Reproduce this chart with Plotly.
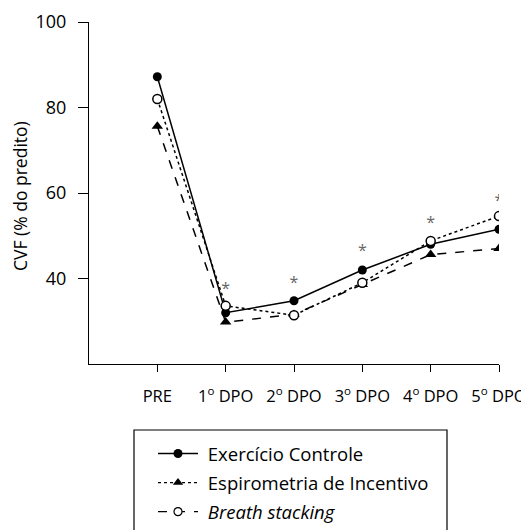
import plotly.graph_objects as go

categories = ["PRE", "1<sup>o</sup> DPO", "2<sup>o</sup> DPO", "3<sup>o</sup> DPO",
              "4<sup>o</sup> DPO", "5<sup>o</sup> DPO"]
exercicio_controle = [87.2, 32.0, 34.8, 42.0, 48.0, 51.5]
espirometria_incentivo = [75.6, 29.8, 31.6, 38.6, 45.6, 47.0]
breath_stacking = [82.0, 33.6, 31.4, 39.0, 48.8, 54.6]
signif_y = [37.4, 38.8, 46.1, 52.8, 58.0]
signif_cats = categories[1:]

FONT = "Open Sans"
x_idx = list(range(len(categories)))

W, H = 521, 522
L, T, PW, PH = 81, 14, 410, 342
B = H - T - PH

fig = go.Figure()

fig.add_trace(go.Scatter(
    x=x_idx, y=exercicio_controle, mode="lines+markers", showlegend=False,
    line=dict(color="black", width=1.5, dash="solid"),
    marker=dict(symbol="circle", size=9, color="black")))
fig.add_trace(go.Scatter(
    x=x_idx, y=espirometria_incentivo, mode="lines+markers", showlegend=False,
    line=dict(color="black", width=1.5, dash="dash"),
    marker=dict(symbol="triangle-up", size=10, color="black")))
fig.add_trace(go.Scatter(
    x=x_idx, y=breath_stacking, mode="lines+markers", showlegend=False,
    line=dict(color="black", width=1.5, dash="dot"),
    marker=dict(symbol="circle", size=9, color="white",
                line=dict(color="black", width=1.5))))

fig.add_trace(go.Scatter(
    x=[categories.index(c) for c in signif_cats], y=signif_y, mode="text",
    text=["*"] * len(signif_cats), showlegend=False,
    textfont=dict(family=FONT, size=16, color="#666666")))

# legend entries (styles as shown in the legend box)
NB = "\u00a0"
fig.add_trace(go.Scatter(
    x=[None], y=[None], mode="lines+markers", name=NB + "Exercício Controle",
    legendgroup="a",
    line=dict(color="black", width=1.5, dash="solid"),
    marker=dict(symbol="circle", size=9, color="black")))
fig.add_trace(go.Scatter(
    x=[None], y=[None], mode="lines+markers", name=NB + "Espirometria de Incentivo",
    legendgroup="b",
    line=dict(color="black", width=1.2, dash="dot"),
    marker=dict(symbol="triangle-up", size=9, color="black")))
fig.add_trace(go.Scatter(
    x=[None], y=[None], mode="lines+markers", name=NB + "<i>Breath stacking</i>",
    legendgroup="c",
    line=dict(color="black", width=1.2, dash="dash"),
    marker=dict(symbol="circle", size=8, color="white",
                line=dict(color="black", width=1.2))))

# legend frame (extends past the bottom edge, as in the reference)
fig.add_shape(type="rect", xref="paper", yref="paper",
              x0=(126 - L) / PW, x1=(439 - L) / PW,
              y0=(T + PH - 560) / PH, y1=(T + PH - 422) / PH,
              line=dict(color="black", width=1.2), fillcolor="rgba(0,0,0,0)")

# y-axis title
fig.add_annotation(text="CVF (% do predito)", xref="paper", yref="paper",
                   x=(12 - L) / PW, y=(T + PH - 188) / PH, textangle=-90,
                   showarrow=False, xanchor="center", yanchor="middle",
                   font=dict(family=FONT, size=17.5, color="black"))

fig.update_layout(
    width=W, height=H,
    margin=dict(l=L, r=W - L - PW, t=T, b=B, autoexpand=False),
    paper_bgcolor="white", plot_bgcolor="white",
    font=dict(family=FONT, size=16, color="black"),
    showlegend=True,
    legend=dict(xref="container", yref="container",
                x=145 / W, xanchor="left", y=1 - 427 / H, yanchor="top",
                borderwidth=0, bgcolor="rgba(0,0,0,0)",
                font=dict(family=FONT, size=18.5, color="black"),
                traceorder="grouped", tracegroupgap=2, itemwidth=40),
    xaxis=dict(range=[-1, 5], tickmode="array", tickvals=x_idx, ticktext=categories,
               showline=True, linecolor="black", linewidth=1.2,
               ticks="outside", ticklen=7, tickcolor="black", tickwidth=1.2,
               ticklabelstandoff=10,
               showgrid=False, zeroline=False,
               tickfont=dict(family=FONT, size=16.5)),
    yaxis=dict(range=[20, 100], tickvals=[40, 60, 80, 100],
               showline=True, linecolor="black", linewidth=1.2,
               ticks="outside", ticklen=10, tickcolor="black", tickwidth=1.2,
               ticklabelstandoff=8,
               showgrid=False, zeroline=False,
               tickfont=dict(family=FONT, size=18)),
)

fig.write_html("out.html")
